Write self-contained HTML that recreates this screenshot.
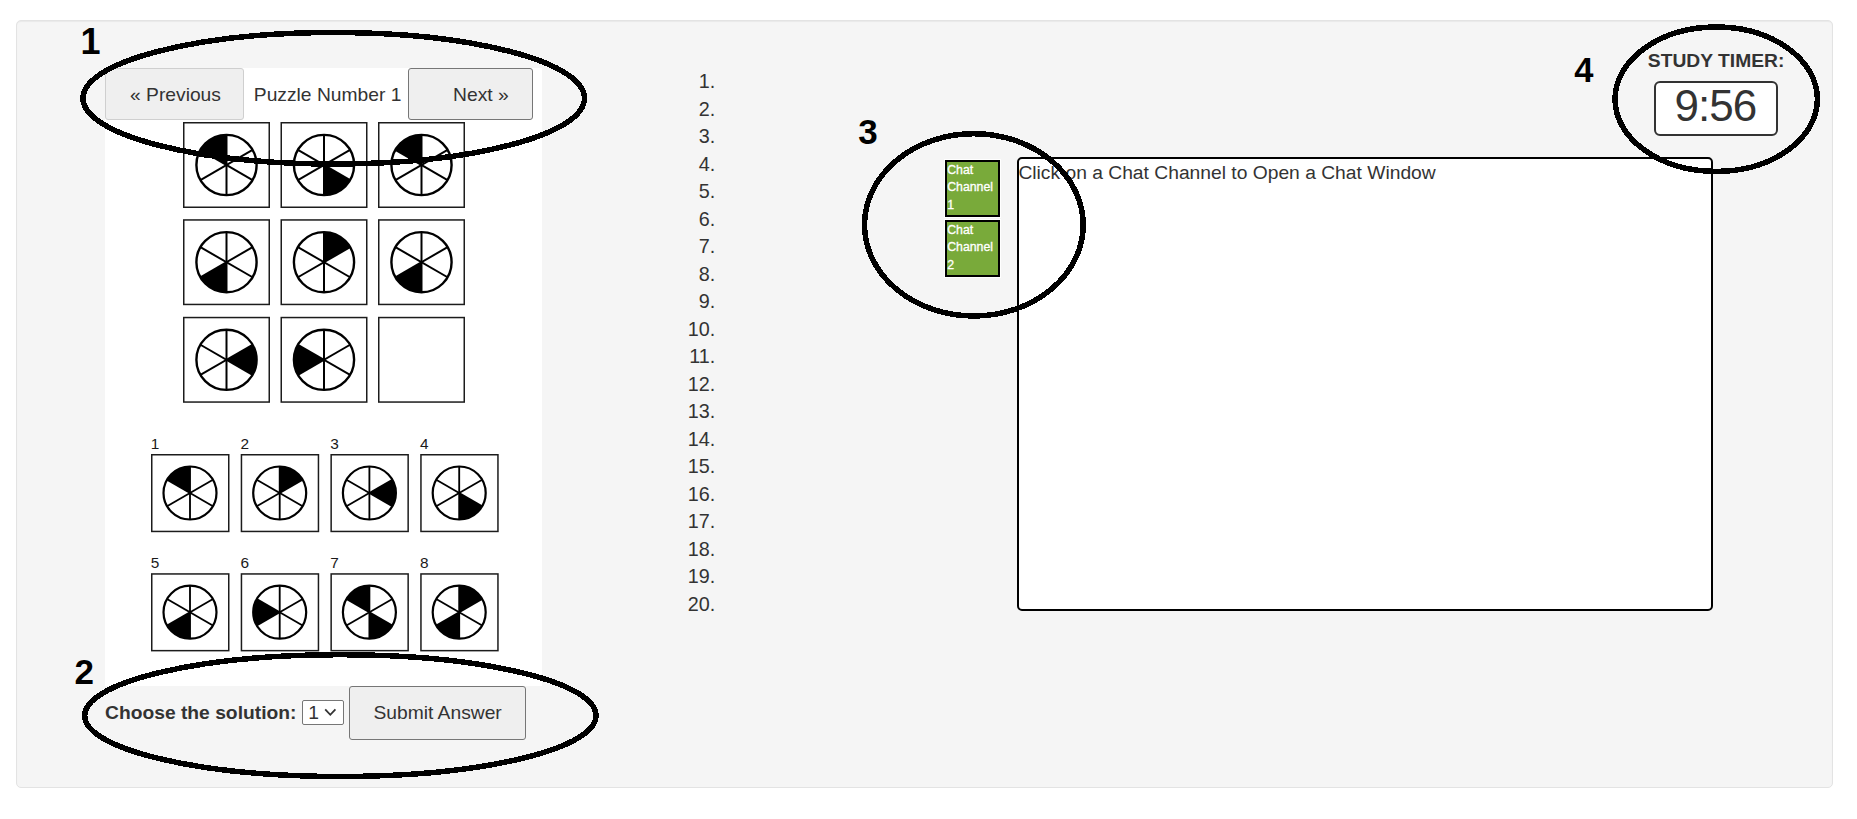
<!DOCTYPE html>
<html><head><meta charset="utf-8">
<style>
html,body{margin:0;padding:0;background:#fff;}
body{width:1857px;height:819px;position:relative;overflow:hidden;font-family:"Liberation Sans",sans-serif;}
.t{position:absolute;line-height:1;white-space:nowrap;}
.box{position:absolute;box-sizing:border-box;}
</style></head><body>
<div class="box" style="left:16px;top:20px;width:1817px;height:768px;background:#f5f5f5;border:1px solid #e3e3e3;border-radius:5px;box-shadow:inset 0 1px 1px rgba(0,0,0,.05);"></div>
<div class="box" style="left:105px;top:68px;width:437px;height:618px;background:#fff;"></div>
<div class="box" style="left:105px;top:68px;width:139px;height:52px;background:#efefef;border:1px solid #cfcfcf;border-radius:3px;"></div>
<div class="box" style="left:408px;top:68px;width:125px;height:52px;background:#efefef;border:1px solid #767676;border-radius:3px;"></div>
<div class="box" style="left:302px;top:700px;width:42px;height:25px;background:#fff;border:1px solid #767676;border-radius:2px;"></div>
<div class="box" style="left:349px;top:686px;width:177px;height:54px;background:#efefef;border:1px solid #767676;border-radius:3px;"></div>
<div class="box" style="left:945px;top:160px;width:55px;height:57px;background:#79aa3a;border:2px solid #000;box-shadow:0 0 0 1px #fff;"></div>
<div class="box" style="left:945px;top:220px;width:55px;height:57px;background:#79aa3a;border:2px solid #000;box-shadow:0 0 0 1px #fff;"></div>
<div class="box" style="left:1017px;top:157px;width:696px;height:454px;background:#fff;border:2px solid #000;border-radius:5px;"></div>
<div class="box" style="left:1654px;top:81px;width:124px;height:55px;background:#fff;border:2px solid #333;border-radius:6px;"></div>
<svg style="position:absolute;left:0;top:0" width="1857" height="819">
<path d="M325.2,709.3 L330.3,714.8 L335.4,709.3" fill="none" stroke="#333" stroke-width="1.8"/>
<rect x="183.75" y="122.75" width="85.5" height="84.5" fill="#fff" stroke="#1c1c1c" stroke-width="1.5"/><path d="M226.50,165.00 L200.43,149.95 A30.1,30.1 0 0 1 226.50,134.90 Z" fill="#000"/>
<line x1="226.50" y1="195.10" x2="226.50" y2="134.90" stroke="#000" stroke-width="2.0"/>
<line x1="200.43" y1="180.05" x2="252.57" y2="149.95" stroke="#000" stroke-width="2.0"/>
<line x1="200.43" y1="149.95" x2="252.57" y2="180.05" stroke="#000" stroke-width="2.0"/>
<circle cx="226.5" cy="165" r="30.1" fill="none" stroke="#000" stroke-width="2.4"/><rect x="281.25" y="122.75" width="85.5" height="84.5" fill="#fff" stroke="#1c1c1c" stroke-width="1.5"/><path d="M324.00,165.00 L350.07,180.05 A30.1,30.1 0 0 1 324.00,195.10 Z" fill="#000"/>
<line x1="324.00" y1="195.10" x2="324.00" y2="134.90" stroke="#000" stroke-width="2.0"/>
<line x1="297.93" y1="180.05" x2="350.07" y2="149.95" stroke="#000" stroke-width="2.0"/>
<line x1="297.93" y1="149.95" x2="350.07" y2="180.05" stroke="#000" stroke-width="2.0"/>
<circle cx="324.0" cy="165" r="30.1" fill="none" stroke="#000" stroke-width="2.4"/><rect x="378.75" y="122.75" width="85.5" height="84.5" fill="#fff" stroke="#1c1c1c" stroke-width="1.5"/><path d="M421.50,165.00 L395.43,149.95 A30.1,30.1 0 0 1 421.50,134.90 Z" fill="#000"/>
<line x1="421.50" y1="195.10" x2="421.50" y2="134.90" stroke="#000" stroke-width="2.0"/>
<line x1="395.43" y1="180.05" x2="447.57" y2="149.95" stroke="#000" stroke-width="2.0"/>
<line x1="395.43" y1="149.95" x2="447.57" y2="180.05" stroke="#000" stroke-width="2.0"/>
<circle cx="421.5" cy="165" r="30.1" fill="none" stroke="#000" stroke-width="2.4"/><rect x="183.75" y="219.95" width="85.5" height="84.5" fill="#fff" stroke="#1c1c1c" stroke-width="1.5"/><path d="M226.50,262.20 L226.50,292.30 A30.1,30.1 0 0 1 200.43,277.25 Z" fill="#000"/>
<line x1="226.50" y1="292.30" x2="226.50" y2="232.10" stroke="#000" stroke-width="2.0"/>
<line x1="200.43" y1="277.25" x2="252.57" y2="247.15" stroke="#000" stroke-width="2.0"/>
<line x1="200.43" y1="247.15" x2="252.57" y2="277.25" stroke="#000" stroke-width="2.0"/>
<circle cx="226.5" cy="262.2" r="30.1" fill="none" stroke="#000" stroke-width="2.4"/><rect x="281.25" y="219.95" width="85.5" height="84.5" fill="#fff" stroke="#1c1c1c" stroke-width="1.5"/><path d="M324.00,262.20 L324.00,232.10 A30.1,30.1 0 0 1 350.07,247.15 Z" fill="#000"/>
<line x1="324.00" y1="292.30" x2="324.00" y2="232.10" stroke="#000" stroke-width="2.0"/>
<line x1="297.93" y1="277.25" x2="350.07" y2="247.15" stroke="#000" stroke-width="2.0"/>
<line x1="297.93" y1="247.15" x2="350.07" y2="277.25" stroke="#000" stroke-width="2.0"/>
<circle cx="324.0" cy="262.2" r="30.1" fill="none" stroke="#000" stroke-width="2.4"/><rect x="378.75" y="219.95" width="85.5" height="84.5" fill="#fff" stroke="#1c1c1c" stroke-width="1.5"/><path d="M421.50,262.20 L421.50,292.30 A30.1,30.1 0 0 1 395.43,277.25 Z" fill="#000"/>
<line x1="421.50" y1="292.30" x2="421.50" y2="232.10" stroke="#000" stroke-width="2.0"/>
<line x1="395.43" y1="277.25" x2="447.57" y2="247.15" stroke="#000" stroke-width="2.0"/>
<line x1="395.43" y1="247.15" x2="447.57" y2="277.25" stroke="#000" stroke-width="2.0"/>
<circle cx="421.5" cy="262.2" r="30.1" fill="none" stroke="#000" stroke-width="2.4"/><rect x="183.75" y="317.55" width="85.5" height="84.5" fill="#fff" stroke="#1c1c1c" stroke-width="1.5"/><path d="M226.50,359.80 L252.57,344.75 A30.1,30.1 0 0 1 252.57,374.85 Z" fill="#000"/>
<line x1="226.50" y1="389.90" x2="226.50" y2="329.70" stroke="#000" stroke-width="2.0"/>
<line x1="200.43" y1="374.85" x2="252.57" y2="344.75" stroke="#000" stroke-width="2.0"/>
<line x1="200.43" y1="344.75" x2="252.57" y2="374.85" stroke="#000" stroke-width="2.0"/>
<circle cx="226.5" cy="359.8" r="30.1" fill="none" stroke="#000" stroke-width="2.4"/><rect x="281.25" y="317.55" width="85.5" height="84.5" fill="#fff" stroke="#1c1c1c" stroke-width="1.5"/><path d="M324.00,359.80 L297.93,374.85 A30.1,30.1 0 0 1 297.93,344.75 Z" fill="#000"/>
<line x1="324.00" y1="389.90" x2="324.00" y2="329.70" stroke="#000" stroke-width="2.0"/>
<line x1="297.93" y1="374.85" x2="350.07" y2="344.75" stroke="#000" stroke-width="2.0"/>
<line x1="297.93" y1="344.75" x2="350.07" y2="374.85" stroke="#000" stroke-width="2.0"/>
<circle cx="324.0" cy="359.8" r="30.1" fill="none" stroke="#000" stroke-width="2.4"/><rect x="378.75" y="317.55" width="85.5" height="84.5" fill="#fff" stroke="#1c1c1c" stroke-width="1.5"/><rect x="151.75" y="454.75" width="77" height="76.7" fill="#fff" stroke="#1c1c1c" stroke-width="1.5"/><path d="M190.00,493.00 L167.05,479.75 A26.5,26.5 0 0 1 190.00,466.50 Z" fill="#000"/>
<line x1="190.00" y1="519.50" x2="190.00" y2="466.50" stroke="#000" stroke-width="1.85"/>
<line x1="167.05" y1="506.25" x2="212.95" y2="479.75" stroke="#000" stroke-width="1.85"/>
<line x1="167.05" y1="479.75" x2="212.95" y2="506.25" stroke="#000" stroke-width="1.85"/>
<circle cx="190" cy="493" r="26.5" fill="none" stroke="#000" stroke-width="2.2"/><rect x="241.45" y="454.75" width="77" height="76.7" fill="#fff" stroke="#1c1c1c" stroke-width="1.5"/><path d="M279.70,493.00 L279.70,466.50 A26.5,26.5 0 0 1 302.65,479.75 Z" fill="#000"/>
<line x1="279.70" y1="519.50" x2="279.70" y2="466.50" stroke="#000" stroke-width="1.85"/>
<line x1="256.75" y1="506.25" x2="302.65" y2="479.75" stroke="#000" stroke-width="1.85"/>
<line x1="256.75" y1="479.75" x2="302.65" y2="506.25" stroke="#000" stroke-width="1.85"/>
<circle cx="279.7" cy="493" r="26.5" fill="none" stroke="#000" stroke-width="2.2"/><rect x="331.15" y="454.75" width="77" height="76.7" fill="#fff" stroke="#1c1c1c" stroke-width="1.5"/><path d="M369.40,493.00 L392.35,479.75 A26.5,26.5 0 0 1 392.35,506.25 Z" fill="#000"/>
<line x1="369.40" y1="519.50" x2="369.40" y2="466.50" stroke="#000" stroke-width="1.85"/>
<line x1="346.45" y1="506.25" x2="392.35" y2="479.75" stroke="#000" stroke-width="1.85"/>
<line x1="346.45" y1="479.75" x2="392.35" y2="506.25" stroke="#000" stroke-width="1.85"/>
<circle cx="369.4" cy="493" r="26.5" fill="none" stroke="#000" stroke-width="2.2"/><rect x="420.95" y="454.75" width="77" height="76.7" fill="#fff" stroke="#1c1c1c" stroke-width="1.5"/><path d="M459.20,493.00 L482.15,506.25 A26.5,26.5 0 0 1 459.20,519.50 Z" fill="#000"/>
<line x1="459.20" y1="519.50" x2="459.20" y2="466.50" stroke="#000" stroke-width="1.85"/>
<line x1="436.25" y1="506.25" x2="482.15" y2="479.75" stroke="#000" stroke-width="1.85"/>
<line x1="436.25" y1="479.75" x2="482.15" y2="506.25" stroke="#000" stroke-width="1.85"/>
<circle cx="459.2" cy="493" r="26.5" fill="none" stroke="#000" stroke-width="2.2"/><rect x="151.75" y="573.95" width="77" height="76.7" fill="#fff" stroke="#1c1c1c" stroke-width="1.5"/><path d="M190.00,612.20 L190.00,638.70 A26.5,26.5 0 0 1 167.05,625.45 Z" fill="#000"/>
<line x1="190.00" y1="638.70" x2="190.00" y2="585.70" stroke="#000" stroke-width="1.85"/>
<line x1="167.05" y1="625.45" x2="212.95" y2="598.95" stroke="#000" stroke-width="1.85"/>
<line x1="167.05" y1="598.95" x2="212.95" y2="625.45" stroke="#000" stroke-width="1.85"/>
<circle cx="190" cy="612.2" r="26.5" fill="none" stroke="#000" stroke-width="2.2"/><rect x="241.45" y="573.95" width="77" height="76.7" fill="#fff" stroke="#1c1c1c" stroke-width="1.5"/><path d="M279.70,612.20 L256.75,625.45 A26.5,26.5 0 0 1 256.75,598.95 Z" fill="#000"/>
<line x1="279.70" y1="638.70" x2="279.70" y2="585.70" stroke="#000" stroke-width="1.85"/>
<line x1="256.75" y1="625.45" x2="302.65" y2="598.95" stroke="#000" stroke-width="1.85"/>
<line x1="256.75" y1="598.95" x2="302.65" y2="625.45" stroke="#000" stroke-width="1.85"/>
<circle cx="279.7" cy="612.2" r="26.5" fill="none" stroke="#000" stroke-width="2.2"/><rect x="331.15" y="573.95" width="77" height="76.7" fill="#fff" stroke="#1c1c1c" stroke-width="1.5"/><path d="M369.40,612.20 L346.45,598.95 A26.5,26.5 0 0 1 369.40,585.70 Z" fill="#000"/>
<path d="M369.40,612.20 L392.35,625.45 A26.5,26.5 0 0 1 369.40,638.70 Z" fill="#000"/>
<line x1="369.40" y1="638.70" x2="369.40" y2="585.70" stroke="#000" stroke-width="1.85"/>
<line x1="346.45" y1="625.45" x2="392.35" y2="598.95" stroke="#000" stroke-width="1.85"/>
<line x1="346.45" y1="598.95" x2="392.35" y2="625.45" stroke="#000" stroke-width="1.85"/>
<circle cx="369.4" cy="612.2" r="26.5" fill="none" stroke="#000" stroke-width="2.2"/><rect x="420.95" y="573.95" width="77" height="76.7" fill="#fff" stroke="#1c1c1c" stroke-width="1.5"/><path d="M459.20,612.20 L459.20,585.70 A26.5,26.5 0 0 1 482.15,598.95 Z" fill="#000"/>
<path d="M459.20,612.20 L459.20,638.70 A26.5,26.5 0 0 1 436.25,625.45 Z" fill="#000"/>
<line x1="459.20" y1="638.70" x2="459.20" y2="585.70" stroke="#000" stroke-width="1.85"/>
<line x1="436.25" y1="625.45" x2="482.15" y2="598.95" stroke="#000" stroke-width="1.85"/>
<line x1="436.25" y1="598.95" x2="482.15" y2="625.45" stroke="#000" stroke-width="1.85"/>
<circle cx="459.2" cy="612.2" r="26.5" fill="none" stroke="#000" stroke-width="2.2"/>
</svg>
<div class="t" style="left:150.8px;top:435.86px;font-size:15.4px;font-weight:normal;color:#1a1a1a;">1</div>
<div class="t" style="left:240.5px;top:435.86px;font-size:15.4px;font-weight:normal;color:#1a1a1a;">2</div>
<div class="t" style="left:330.2px;top:435.86px;font-size:15.4px;font-weight:normal;color:#1a1a1a;">3</div>
<div class="t" style="left:420.0px;top:435.86px;font-size:15.4px;font-weight:normal;color:#1a1a1a;">4</div>
<div class="t" style="left:150.8px;top:555.06px;font-size:15.4px;font-weight:normal;color:#1a1a1a;">5</div>
<div class="t" style="left:240.5px;top:555.06px;font-size:15.4px;font-weight:normal;color:#1a1a1a;">6</div>
<div class="t" style="left:330.2px;top:555.06px;font-size:15.4px;font-weight:normal;color:#1a1a1a;">7</div>
<div class="t" style="left:420.0px;top:555.06px;font-size:15.4px;font-weight:normal;color:#1a1a1a;">8</div>

<div class="t" style="left:130px;top:84.70px;font-size:19.25px;font-weight:normal;color:#333;">« Previous</div>
<div class="t" style="left:253.8px;top:84.90px;font-size:19.25px;font-weight:normal;color:#333;">Puzzle Number 1</div>
<div class="t" style="left:453.1px;top:84.70px;font-size:19.25px;font-weight:normal;color:#333;">Next »</div>
<div class="t" style="left:0px;top:72.04px;font-size:19.8px;font-weight:normal;color:#333;width:715.2px;text-align:right;">1.</div>
<div class="t" style="left:0px;top:99.54px;font-size:19.8px;font-weight:normal;color:#333;width:715.2px;text-align:right;">2.</div>
<div class="t" style="left:0px;top:127.04px;font-size:19.8px;font-weight:normal;color:#333;width:715.2px;text-align:right;">3.</div>
<div class="t" style="left:0px;top:154.54px;font-size:19.8px;font-weight:normal;color:#333;width:715.2px;text-align:right;">4.</div>
<div class="t" style="left:0px;top:182.04px;font-size:19.8px;font-weight:normal;color:#333;width:715.2px;text-align:right;">5.</div>
<div class="t" style="left:0px;top:209.54px;font-size:19.8px;font-weight:normal;color:#333;width:715.2px;text-align:right;">6.</div>
<div class="t" style="left:0px;top:237.04px;font-size:19.8px;font-weight:normal;color:#333;width:715.2px;text-align:right;">7.</div>
<div class="t" style="left:0px;top:264.54px;font-size:19.8px;font-weight:normal;color:#333;width:715.2px;text-align:right;">8.</div>
<div class="t" style="left:0px;top:292.04px;font-size:19.8px;font-weight:normal;color:#333;width:715.2px;text-align:right;">9.</div>
<div class="t" style="left:0px;top:319.54px;font-size:19.8px;font-weight:normal;color:#333;width:715.2px;text-align:right;">10.</div>
<div class="t" style="left:0px;top:347.04px;font-size:19.8px;font-weight:normal;color:#333;width:715.2px;text-align:right;">11.</div>
<div class="t" style="left:0px;top:374.54px;font-size:19.8px;font-weight:normal;color:#333;width:715.2px;text-align:right;">12.</div>
<div class="t" style="left:0px;top:402.04px;font-size:19.8px;font-weight:normal;color:#333;width:715.2px;text-align:right;">13.</div>
<div class="t" style="left:0px;top:429.54px;font-size:19.8px;font-weight:normal;color:#333;width:715.2px;text-align:right;">14.</div>
<div class="t" style="left:0px;top:457.04px;font-size:19.8px;font-weight:normal;color:#333;width:715.2px;text-align:right;">15.</div>
<div class="t" style="left:0px;top:484.54px;font-size:19.8px;font-weight:normal;color:#333;width:715.2px;text-align:right;">16.</div>
<div class="t" style="left:0px;top:512.04px;font-size:19.8px;font-weight:normal;color:#333;width:715.2px;text-align:right;">17.</div>
<div class="t" style="left:0px;top:539.54px;font-size:19.8px;font-weight:normal;color:#333;width:715.2px;text-align:right;">18.</div>
<div class="t" style="left:0px;top:567.04px;font-size:19.8px;font-weight:normal;color:#333;width:715.2px;text-align:right;">19.</div>
<div class="t" style="left:0px;top:594.54px;font-size:19.8px;font-weight:normal;color:#333;width:715.2px;text-align:right;">20.</div>
<div class="t" style="left:1018.4px;top:163.30px;font-size:19.25px;font-weight:normal;color:#333;">Click on a Chat Channel to Open a Chat Window</div>
<div class="t" style="left:947.2px;top:163.59px;font-size:12.3px;font-weight:normal;color:#fff;-webkit-text-stroke:0.3px #fff;">Chat</div>
<div class="t" style="left:947.2px;top:180.79px;font-size:12.3px;font-weight:normal;color:#fff;-webkit-text-stroke:0.3px #fff;">Channel</div>
<div class="t" style="left:947.2px;top:198.69px;font-size:12.3px;font-weight:normal;color:#fff;-webkit-text-stroke:0.3px #fff;">1</div>
<div class="t" style="left:947.2px;top:223.59px;font-size:12.3px;font-weight:normal;color:#fff;-webkit-text-stroke:0.3px #fff;">Chat</div>
<div class="t" style="left:947.2px;top:240.79px;font-size:12.3px;font-weight:normal;color:#fff;-webkit-text-stroke:0.3px #fff;">Channel</div>
<div class="t" style="left:947.2px;top:258.69px;font-size:12.3px;font-weight:normal;color:#fff;-webkit-text-stroke:0.3px #fff;">2</div>
<div class="t" style="left:105px;top:702.90px;font-size:19.25px;font-weight:bold;color:#333;">Choose the solution:</div>
<div class="t" style="left:308.3px;top:702.70px;font-size:19.25px;font-weight:normal;color:#333;">1</div>
<div class="t" style="left:373.4px;top:702.50px;font-size:19.25px;font-weight:normal;color:#333;">Submit Answer</div>
<div class="t" style="left:1647.8px;top:50.70px;font-size:19.25px;font-weight:bold;color:#333;">STUDY TIMER:</div>
<div class="t" style="left:1674.5px;top:84.45px;font-size:44px;font-weight:normal;color:#333;letter-spacing:-1px;">9:56</div>
<div class="t" style="left:80.5px;top:23.73px;font-size:36px;font-weight:bold;color:#000;">1</div>
<div class="t" style="left:74.5px;top:654.37px;font-size:35px;font-weight:bold;color:#000;">2</div>
<div class="t" style="left:858.3px;top:114.37px;font-size:35px;font-weight:bold;color:#000;">3</div>
<div class="t" style="left:1574.3px;top:53.20px;font-size:34.5px;font-weight:bold;color:#000;">4</div>

<svg style="position:absolute;left:0;top:0" width="1857" height="819"><ellipse cx="333.75" cy="98.25" rx="250.75" ry="65.75" fill="none" stroke="#000" stroke-width="5.5" shape-rendering="crispEdges"/><ellipse cx="340.35" cy="715.6" rx="255.65" ry="60.9" fill="none" stroke="#000" stroke-width="5.5" shape-rendering="crispEdges"/><ellipse cx="973.85" cy="224.85" rx="109.35" ry="91.15" fill="none" stroke="#000" stroke-width="5.5" shape-rendering="crispEdges"/><ellipse cx="1716.2" cy="99.2" rx="101.2" ry="72.2" fill="none" stroke="#000" stroke-width="5.5" shape-rendering="crispEdges"/></svg>
</body></html>
